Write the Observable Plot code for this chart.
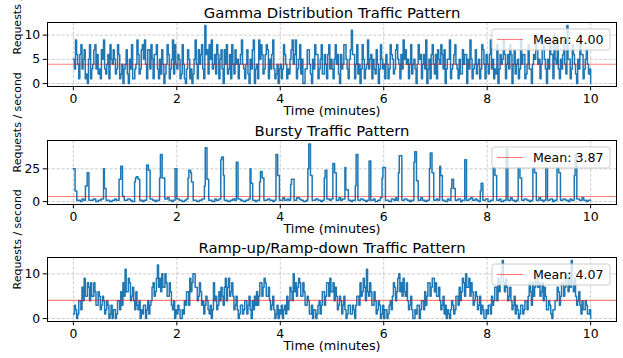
<!DOCTYPE html>
<html>
<head>
<meta charset="utf-8">
<script src="https://cdn.jsdelivr.net/npm/d3@7"></script>
<script src="https://cdn.jsdelivr.net/npm/@observablehq/plot@0.6"></script>
<style>
  html, body { margin: 0; padding: 0; background: #fff; }
  #chart { position: relative; width: 623px; height: 358px; overflow: hidden; font-family: "DejaVu Sans", sans-serif; }
  #chart svg { position: absolute; left: 0; }
</style>
</head>
<body>
<div id="chart"></div>
<script>
// ---------------- data ----------------
const xTicks = [0, 2, 4, 6, 8, 10];
const titles = ["Gamma Distribution Traffic Pattern", "Bursty Traffic Pattern", "Ramp-up/Ramp-down Traffic Pattern"];
const means = [4.00, 3.87, 4.07];
const yTicksGamma = [0, 5, 10];
const yTicksBurst = [0, 25];
const yTicksRamp = [0, 10];

// sampling interval (minutes) of the gamma and ramp series: 1.25 s
const stepMinutes = 1 / 48;

// requests/second, minutes 0..10 (one row per minute)
const gammaRps = [
  5,3,9,6,4,1,6,8,3,5,7,1,2,0,5,8,1,3,4,7,8,3,6,2,3,1,7,5,9,3,2,4,6,1,8,5,4,7,5,2,3,8,6,1,2,4,0,3,
  4,7,2,0,5,3,8,1,1,3,4,9,6,2,3,7,8,5,9,4,1,7,7,3,8,5,1,6,6,8,3,1,5,2,7,4,0,2,4,8,6,1,3,5,9,2,8,4,
  3,6,5,1,2,8,4,1,0,3,7,5,1,3,0,2,5,9,4,1,7,4,6,8,3,1,12,6,7,2,8,5,9,3,4,6,2,8,6,1,5,7,3,0,7,4,8,2,
  3,6,1,8,4,2,7,4,5,1,4,6,9,4,3,1,4,7,2,0,5,3,7,9,0,3,4,1,9,5,8,6,2,3,6,8,7,1,5,3,6,9,3,1,2,4,0,3,
  4,1,3,8,6,4,1,3,2,5,7,9,4,6,9,1,3,5,8,2,5,0,0,3,3,7,7,4,2,0,5,3,8,6,6,1,3,5,8,2,2,6,4,1,6,8,3,5,
  3,1,5,8,4,6,2,0,6,3,4,8,8,5,3,1,5,7,11,6,6,1,4,8,2,4,0,3,8,5,1,3,4,9,3,5,6,1,5,3,2,7,4,0,3,8,5,3,
  4,1,6,4,1,3,8,6,5,2,3,7,8,5,4,1,6,3,9,5,7,4,5,1,4,8,2,4,5,3,0,4,8,5,6,1,4,6,3,9,0,3,5,1,6,8,4,2,
  6,1,7,5,4,8,6,3,7,0,3,5,5,9,1,3,4,6,8,4,3,1,5,2,2,7,4,6,6,0,5,3,9,5,1,3,4,7,2,4,5,1,3,8,7,4,1,6,
  4,2,6,9,3,5,1,3,2,8,0,3,6,4,5,9,6,1,4,6,3,8,6,0,4,7,2,4,5,1,3,9,4,6,6,1,2,4,8,3,3,0,4,6,5,9,7,4,
  5,1,4,7,8,5,3,0,5,3,9,6,6,1,10,5,4,8,3,1,5,3,6,9,4,2,12,5,5,1,3,8,6,4,2,0,5,3,9,6,6,1,3,5,7,4,2,3,
  0
];

const rampRps = [
  1,3,2,0,1,4,4,2,7,4,9,5,5,8,7,4,8,5,5,8,6,3,3,6,5,2,3,5,4,1,2,4,3,0,1,3,0,2,2,0,1,4,4,2,6,3,8,5,
  11,6,6,9,8,4,5,7,4,2,6,3,2,4,0,2,1,3,3,0,2,4,1,3,4,7,8,5,6,9,12,7,9,6,10,7,7,10,8,5,5,8,6,3,2,4,0,2,
  1,3,2,0,0,2,1,4,3,6,6,3,9,6,8,10,10,7,7,4,5,8,6,3,4,1,3,5,4,2,1,3,0,2,8,4,5,2,3,6,4,7,5,3,7,9,4,7,
  9,5,6,8,5,2,3,5,2,0,1,3,3,1,2,4,4,1,3,5,2,0,4,2,5,3,6,3,5,8,8,5,7,9,8,5,5,7,4,2,3,5,2,0,1,3,0,2,
  1,3,0,2,3,1,5,2,4,7,6,4,10,6,8,5,7,9,8,5,5,8,6,3,3,5,4,1,1,3,0,2,2,0,1,3,4,1,3,6,6,3,5,8,8,5,9,6,
  6,8,4,7,5,2,3,5,4,1,3,5,2,0,1,3,3,1,1,3,2,0,3,5,5,3,8,5,6,9,7,4,11,6,5,8,6,3,3,6,4,1,2,4,3,0,1,3,
  0,2,2,0,1,3,4,2,5,8,7,4,6,9,10,6,8,5,9,6,5,8,4,2,3,5,2,0,0,2,1,3,3,0,2,4,4,2,6,3,5,8,8,5,7,9,9,6,
  8,5,5,7,4,2,3,5,1,3,0,2,1,0,2,4,3,1,2,5,5,3,7,4,6,9,8,5,10,7,7,9,5,8,6,3,4,6,5,2,3,5,1,3,2,0,0,2,
  1,3,3,1,5,3,4,7,7,4,9,6,8,10,13,8,6,9,7,4,5,7,4,2,3,5,1,3,2,0,1,3,3,1,2,4,4,2,5,8,6,3,8,5,7,9,10,7,
  8,5,6,8,4,7,5,2,2,4,3,1,0,2,2,4,4,7,6,3,5,8,8,5,7,10,9,6,10,7,13,8,6,9,5,3,4,6,3,1,4,2,2,4,3,1,1,2,
  0
];

// bursty series as [second, requests/second] change points (held until the next point)
const burstPoints = [
  [0,25],[2,8],[4,1],[8,0],[10,2],[12,1],
  [14,12],[16,22],[18,1],[23,2],[26,0],[29,1],[32,2],
  [35,25],[36,10],[38,1],[42,0],[45,1],[48,2],[50,1],
  [53,17],[55,27],[57,4],[59,1],[63,2],[66,1],[68,0],
  [71,15],[72,18],[73,19],[75,17],[77,1],[80,0],[82,1],
  [85,28],[87,24],[89,2],[92,1],[95,0],[97,1],
  [100,18],[101,36],[103,18],[106,2],[109,3],[111,1],[114,0],[116,1],
  [118,25],[120,2],[123,1],[126,0],[129,1],[131,2],
  [133,18],[134,24],[136,22],[137,15],[139,1],[143,0],[146,1],[149,2],
  [152,12],[153,41],[155,17],[157,1],[161,0],[164,2],[166,1],[169,2],
  [171,32],[172,34],[174,20],[175,1],[179,0],[182,1],[185,2],[187,1],
  [189,30],[191,2],[194,1],[197,0],[200,1],[203,2],
  [205,25],[206,14],[208,1],[211,0],[213,1],
  [216,15],[217,23],[219,18],[221,1],[225,2],[228,1],[231,0],[233,1],
  [235,36],[237,20],[239,1],[243,3],[245,1],[248,2],[250,1],
  [252,13],[253,17],[256,1],[259,3],[262,2],[264,1],[267,0],[270,1],
  [272,25],[273,44],[275,20],[277,1],[281,2],[284,1],[287,0],[289,1],
  [291,18],[292,24],[294,2],[297,1],[299,2],
  [301,29],[303,22],[305,1],[308,3],[310,1],[312,2],
  [315,26],[316,9],[319,1],[322,0],[324,1],
  [327,12],[328,36],[330,1],[333,2],[336,1],[339,0],[341,1],
  [343,31],[345,1],[348,2],[350,0],[353,1],[356,3],
  [358,18],[359,26],[362,1],[366,0],[369,2],[372,1],[374,3],[375,1],
  [377,22],[378,35],[381,1],[384,2],[387,1],[390,0],[392,1],
  [395,30],[396,38],[398,16],[400,1],[403,3],[405,1],[408,0],[410,1],
  [413,25],[414,37],[416,22],[418,1],[421,2],[423,1],
  [425,27],[426,20],[428,1],[431,0],[434,2],[436,1],
  [438,10],[439,17],[441,10],[443,1],[446,2],[449,0],[451,1],
  [454,32],[456,1],[459,2],[461,3],[463,1],[466,2],[468,1],[470,0],
  [472,8],[473,14],[475,1],[478,2],[481,0],[484,1],
  [487,26],[489,20],[491,1],[494,2],[496,0],[499,1],
  [502,40],[504,1],[507,3],[509,1],[512,0],[514,1],
  [516,26],[518,18],[520,1],[523,2],[526,1],[529,0],[531,1],
  [533,26],[535,22],[537,1],[540,3],[542,1],[545,0],[546,1],
  [548,26],[550,1],[553,2],[556,0],[558,1],
  [561,26],[563,22],[565,1],[568,2],[571,1],[574,0],[576,2],[578,1],
  [581,20],[582,36],[584,2],[587,1],[590,3],[592,1],[595,0],[597,1],[600,1]
];

// ---------------- build tables ----------------
const gammaData = gammaRps.map((v, i) => ({t: i * stepMinutes, v}));
const rampData = rampRps.map((v, i) => ({t: i * stepMinutes, v}));
const burstData = burstPoints.map(([s, v]) => ({t: s / 60, v}));

// ---------------- layout ----------------
const W = 623, H = 119, mT = 22, mB = 33, mL = 47, mR = 7;
const FONT = "DejaVu Sans";
const LINE = "#1f77b4";
const container = document.getElementById("chart");

function panel({data, yDomain, yTicks, title, mean, top}) {
  const svg = Plot.plot({
    width: W, height: H,
    marginTop: mT, marginBottom: mB, marginLeft: mL, marginRight: mR,
    style: {fontFamily: FONT, fontSize: "12.4px", color: "#000", background: "transparent", overflow: "visible"},
    x: {domain: [-0.5, 10.5], ticks: xTicks, tickSize: 4.3, tickPadding: 3, label: null, tickFormat: d => String(d)},
    y: {domain: yDomain, ticks: yTicks, tickSize: 4.3, tickPadding: 3, label: null, tickFormat: d => String(d)},
    marks: [
      Plot.gridX(xTicks, {stroke: "#b0b0b0", strokeOpacity: 0.7, strokeWidth: 0.9, strokeDasharray: "3.2,1.6"}),
      Plot.gridY(yTicks, {stroke: "#b0b0b0", strokeOpacity: 0.7, strokeWidth: 0.9, strokeDasharray: "3.2,1.6"}),
      Plot.line(data, {x: "t", y: "v", curve: "step-after", stroke: LINE, strokeWidth: 1.5}),
      Plot.ruleY([mean], {stroke: "red", strokeOpacity: 0.5, strokeWidth: 1.1}),
      Plot.frame({stroke: "#000", strokeWidth: 1}),
      Plot.text([title], {text: d => d, frameAnchor: "top", dy: -9, fontSize: 14.8, lineAnchor: "middle", fill: "#000"}),
      Plot.text(["Time (minutes)"], {text: d => d, frameAnchor: "bottom", dy: 24, fontSize: 12.8, lineAnchor: "middle", fill: "#000"}),
      Plot.text(["Requests / second"], {text: d => d, frameAnchor: "left", dx: -30, rotate: -90, fontSize: 11, lineAnchor: "middle", fill: "#000"})
    ]
  });
  svg.style.top = top + "px";
  // legend (upper right, matplotlib style)
  const right = W - mR, boxW = 118, boxH = 21;
  const bx = right - 6 - boxW, by = mT + 7;
  const g = d3.select(svg).append("g").attr("font-family", FONT).attr("font-size", 12.6).attr("text-anchor", "start");
  g.append("rect").attr("x", bx).attr("y", by).attr("width", boxW).attr("height", boxH)
    .attr("rx", 2.5).attr("fill", "#fff").attr("fill-opacity", 0.8).attr("stroke", "#ccc").attr("stroke-width", 1);
  g.append("line").attr("x1", bx + 5).attr("x2", bx + 31).attr("y1", by + boxH / 2).attr("y2", by + boxH / 2)
    .attr("stroke", "red").attr("stroke-opacity", 0.5).attr("stroke-width", 1.1);
  g.append("text").attr("x", bx + 41).attr("y", by + boxH / 2).attr("dy", "0.36em").attr("fill", "#000")
    .attr("text-anchor", "start").text("Mean: " + mean.toFixed(2));
  container.appendChild(svg);
}

panel({data: gammaData, yDomain: [-0.6, 12.6], yTicks: yTicksGamma, title: titles[0], mean: means[0], top: 0});
panel({data: burstData, yDomain: [-2.2, 46.6], yTicks: yTicksBurst, title: titles[1], mean: means[1], top: 117.5});
panel({data: rampData, yDomain: [-0.65, 13.65], yTicks: yTicksRamp, title: titles[2], mean: means[2], top: 235});
</script>
</body>
</html>
